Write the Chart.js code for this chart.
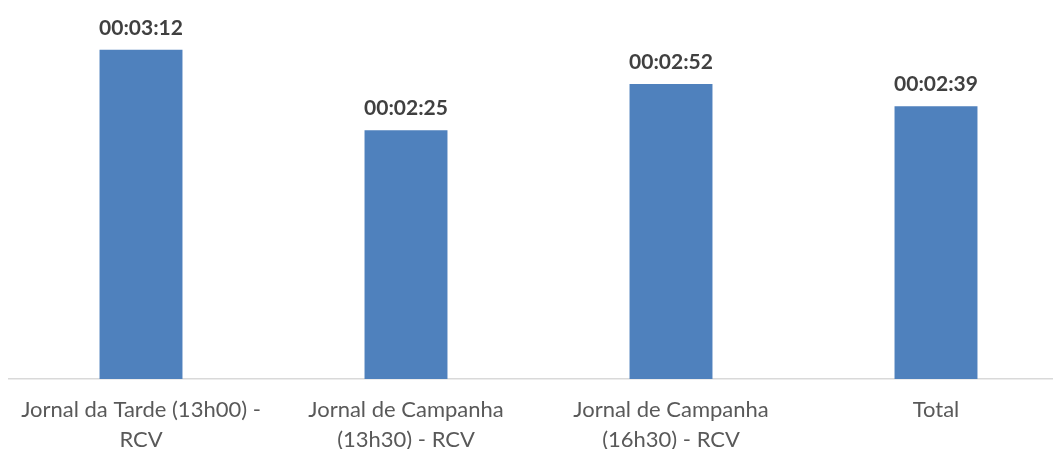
<!DOCTYPE html>
<html>
<head>
<meta charset="utf-8">
<script src="https://cdn.jsdelivr.net/npm/chart.js@4"></script>
<style>
  html, body { margin: 0; padding: 0; background: #fff; overflow: hidden; }
  #wrap { width: 1070px; height: 449px; position: relative; }
</style>
</head>
<body>
<div id="wrap"><canvas id="chart"></canvas></div>
<script>
// Average duration per programme (seconds)
const categories = [
    ['Jornal da Tarde (13h00) -', 'RCV'],
    ['Jornal de Campanha', '(13h30) - RCV'],
    ['Jornal de Campanha', '(16h30) - RCV'],
    'Total'
];
const durations = [192, 145, 172, 159];

function formatTime(sec) {
    const h = Math.floor(sec / 3600);
    const m = Math.floor((sec % 3600) / 60);
    const s = sec % 60;
    return [h, m, s].map(v => String(v).padStart(2, '0')).join(':');
}

// draw the bold time labels above each bar
const valueLabels = {
    id: 'valueLabels',
    afterDatasetsDraw(chart) {
        const ctx = chart.ctx;
        const meta = chart.getDatasetMeta(0);
        ctx.save();
        ctx.font = 'bold 21px Lato, "Open Sans", sans-serif';
        ctx.fillStyle = '#404040';
        ctx.textAlign = 'center';
        ctx.textBaseline = 'alphabetic';
        meta.data.forEach((bar, i) => {
            ctx.fillText(formatTime(durations[i]), bar.x, bar.y - 15);
        });
        ctx.restore();
    }
};

new Chart(document.getElementById('chart'), {
    type: 'bar',
    data: {
        labels: categories,
        datasets: [{
            data: durations,
            backgroundColor: '#4F81BD',
            borderWidth: 0,
            barPercentage: 0.313,
            categoryPercentage: 1
        }]
    },
    options: {
        responsive: true,
        maintainAspectRatio: false,
        animation: false,
        layout: { padding: { left: 8.5, right: 1.5, top: 0, bottom: 0 } },
        plugins: {
            legend: { display: false },
            tooltip: { enabled: false }
        },
        scales: {
            x: {
                grid: { display: false, drawTicks: false },
                border: { display: true, color: '#D9D9D9', width: 1.5 },
                ticks: {
                    color: '#595959',
                    font: { family: 'Lato, "Open Sans", sans-serif', size: 22, lineHeight: 1.36 },
                    padding: 16,
                    maxRotation: 0,
                    autoSkip: false
                },
                afterFit(scale) { scale.height = 70; }
            },
            y: {
                display: false,
                min: 0,
                max: 221
            }
        }
    },
    plugins: [valueLabels]
});
</script>
</body>
</html>
